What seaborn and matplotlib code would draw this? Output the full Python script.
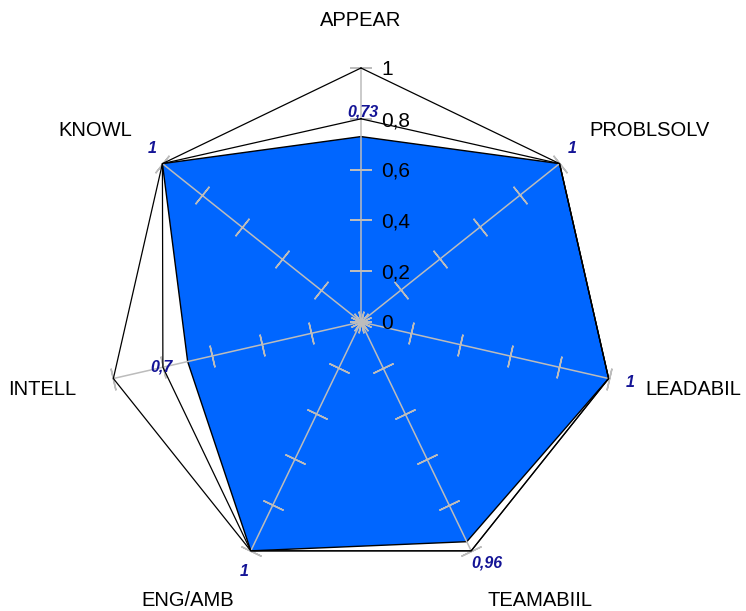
import numpy as np
import pandas as pd
import matplotlib
matplotlib.use("Agg")
import matplotlib.pyplot as plt
import seaborn as sns

categories = ["APPEAR", "PROBLSOLV", "LEADABIL", "TEAMABIIL", "ENG/AMB", "INTELL", "KNOWL"]
scores = [0.73, 1.0, 1.0, 0.96, 1.0, 0.70, 1.0]
reference = [0.8, 1.0, 1.0, 1.0, 1.0, 0.8, 1.0]
score_labels = ["0,73", "1", "1", "0,96", "1", "0,7", "1"]
tick_values = [0, 0.2, 0.4, 0.6, 0.8, 1.0]
tick_labels = ["0", "0,2", "0,4", "0,6", "0,8", "1"]

# text nudges (pixels, right/down) for the value labels, relative to their points
label_nudge = [(2, -20.5), (13, -10.5), (22, 8.5), (20, 25.5), (-7, 25.5), (-26, 9.5), (-10, -10.5)]

sns.set_theme(style="white")
plt.rcParams["font.family"] = ["Liberation Sans", "DejaVu Sans"]

fig = plt.figure(figsize=(7.46, 6.11), dpi=100)
ax = fig.add_axes([0.1434, 0.0573, 0.6810, 0.8314], projection="polar")
ax.set_theta_zero_location("N")
ax.set_theta_direction(-1)
ax.set_ylim(0, 1)
ax.set_axis_off()

n = len(categories)
theta = np.linspace(0, 2 * np.pi, n, endpoint=False)
theta_c = np.append(theta, theta[0])

# filled score polygon
sc = np.append(scores, scores[0])
ax.fill(theta_c, sc, facecolor="#0066ff", edgecolor="black", lw=1.0, zorder=1, clip_on=False)

# outer frame at 1
frame = np.ones(n + 1)
ax.plot(theta_c, frame, color="black", lw=0.9, zorder=3, clip_on=False)

# reference series outline
df = pd.DataFrame({"theta": theta_c, "r": np.append(reference, reference[0])})
sns.lineplot(data=df, x="theta", y="r", sort=False, estimator=None, color="black",
             lw=0.9, ax=ax, zorder=3, clip_on=False)

gray = "#bcbcbc"
for t in theta:
    ax.plot([t, t], [0, 1], color=gray, lw=1.1, zorder=2, clip_on=False)
    ang = 90 - np.degrees(t)
    ax.plot([t] * len(tick_values), tick_values, ls="none", marker=(2, 2, ang), ms=16,
            mec=gray, mew=1.1, zorder=2, clip_on=False)

# radial tick labels on first axis
for v, lab in zip(tick_values, tick_labels):
    ax.annotate(lab, xy=(0, v), xytext=(14.4, -7.3 * 0.72), textcoords="offset points",
                ha="left", va="baseline", fontsize=15, color="black", zorder=5,
                annotation_clip=False)

# category labels
for t, cat in zip(theta, categories):
    s, c = np.sin(t), np.cos(t)
    ha = "center" if abs(s) < 0.05 else ("left" if s > 0 else "right")
    if c > 0.5:
        va, dy = "bottom", 0
    elif c < -0.5:
        va, dy = "top", -6
    else:
        va, dy = "center", -3
    ax.annotate(cat, xy=(t, 1.15), xytext=(0, dy * 0.72), textcoords="offset points",
                ha=ha, va=va, fontsize=14.5, color="black", annotation_clip=False)

# value labels
for t, v, lab, (nx, ny) in zip(theta, scores, score_labels, label_nudge):
    ax.annotate(lab, xy=(t, v), xytext=(nx * 0.72, -ny * 0.72), textcoords="offset points",
                ha="center", va="baseline", fontsize=11.5, fontweight="bold",
                fontstyle="italic", color="#141496", zorder=6, annotation_clip=False)

fig.savefig("out.png", dpi=100)
